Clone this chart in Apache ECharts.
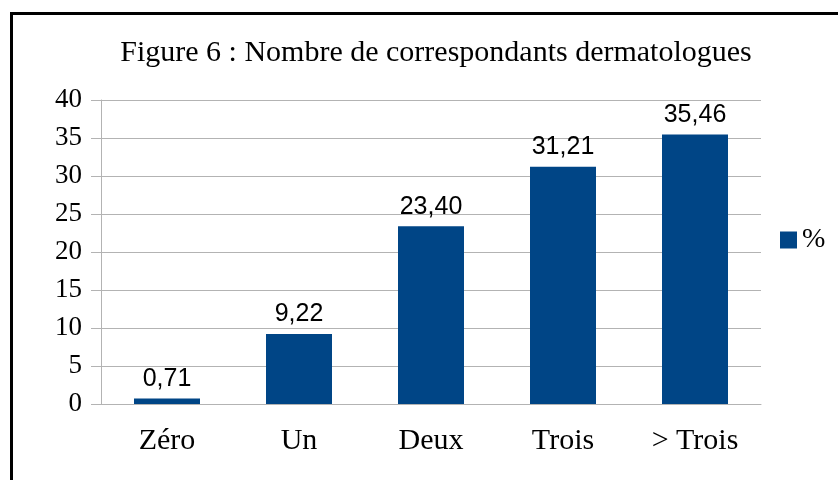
<!DOCTYPE html>
<html>
<head>
<meta charset="utf-8">
<script src="https://cdn.jsdelivr.net/npm/echarts@6/dist/echarts.min.js"></script>
<style>
  html, body { margin: 0; padding: 0; background: #fff; }
  #frame { position: absolute; left: 10px; top: 12px; width: 840px; height: 480px;
           border-left: 3px solid #000; border-top: 3px solid #000; }
  #main { position: absolute; left: 0; top: 0; width: 838px; height: 480px; }
</style>
</head>
<body>
<div id="frame"></div>
<div id="main"></div>
<script>
var categories = ['Zéro', 'Un', 'Deux', 'Trois', '> Trois'];
var values = [0.71, 9.22, 23.40, 31.21, 35.46];

var myChart = echarts.init(document.getElementById('main'));
// grey used by the axes and grid
var axisGrey = '#b3b3b3';
myChart.setOption({
  animation: false,
  title: {
    text: 'Figure 6 : Nombre de correspondants dermatologues',
    left: 431,
    textAlign: 'center',
    top: 33,
    textStyle: { fontFamily: 'Liberation Serif', fontSize: 30, fontWeight: 'normal', color: '#000' }
  },
  legend: {
    data: ['%'],
    orient: 'vertical',
    left: 775,
    top: 221,
    itemWidth: 17,
    itemHeight: 17,
    itemGap: 6,
    icon: 'rect',
    textStyle: { fontFamily: 'Liberation Serif', fontSize: 28, color: '#000' }
  },
  grid: { left: 101, right: 77, top: 100, bottom: 76 },
  xAxis: {
    type: 'category',
    data: categories,
    axisLine: { lineStyle: { color: axisGrey } },
    axisTick: { length: 11, lineStyle: { color: axisGrey } },
    axisLabel: { margin: 22, fontFamily: 'Liberation Serif', fontSize: 30, color: '#000' }
  },
  yAxis: {
    type: 'value',
    min: 0, max: 40, interval: 5,
    axisLine: { show: true, lineStyle: { color: axisGrey } },
    axisTick: { show: true, length: 10, lineStyle: { color: axisGrey } },
    splitLine: { lineStyle: { color: axisGrey } },
    axisLabel: { margin: 19, fontFamily: 'Liberation Serif', fontSize: 27, color: '#000' }
  },
  series: [{
    name: '%',
    type: 'bar',
    barWidth: '50%',
    data: values,
    itemStyle: { color: '#004586' },
    label: {
      show: true,
      position: 'top',
      distance: 7,
      fontFamily: 'Liberation Sans',
      fontSize: 25,
      color: '#000',
      formatter: function (p) { return p.value.toFixed(2).replace('.', ','); }
    }
  }]
});
</script>
</body>
</html>
